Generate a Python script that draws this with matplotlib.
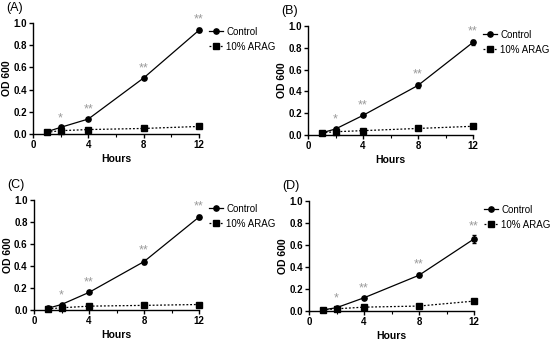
import matplotlib
matplotlib.use("Agg")
import matplotlib.pyplot as plt
from matplotlib.lines import Line2D
import numpy as np

hours = [1, 2, 4, 8, 12]
panel_labels = ["(A)", "(B)", "(C)", "(D)"]
series_names = ["Control", "10% ARAG"]

control_A = [0.02, 0.06, 0.135, 0.505, 0.935]
arag_A = [0.015, 0.03, 0.04, 0.05, 0.068]
control_B = [0.02, 0.055, 0.18, 0.455, 0.85]
arag_B = [0.02, 0.03, 0.04, 0.06, 0.08]
control_C = [0.015, 0.05, 0.16, 0.44, 0.845]
arag_C = [0.01, 0.02, 0.035, 0.042, 0.05]
control_D = [0.01, 0.03, 0.12, 0.325, 0.655]
arag_D = [0.01, 0.02, 0.035, 0.045, 0.09]

err_control_A = [0.003, 0.005, 0.008, 0.01, 0.02]
err_control_B = [0.003, 0.005, 0.008, 0.025, 0.02]
err_control_C = [0.003, 0.005, 0.008, 0.02, 0.02]
err_control_D = [0.003, 0.005, 0.008, 0.02, 0.035]

sig_marks = ["", "*", "**", "**", "**"]

xticks = [0, 4, 8, 12]
yticks = [0.0, 0.2, 0.4, 0.6, 0.8, 1.0]

panels = [
    (control_A, arag_A, err_control_A),
    (control_B, arag_B, err_control_B),
    (control_C, arag_C, err_control_C),
    (control_D, arag_D, err_control_D),
]

# axes positions in pixels (left, right, bottom_y, top_y)
W, H = 550, 344
pix = [
    (33, 199, 134, 23),
    (308, 473, 135, 26),
    (34, 199, 310, 200),
    (309, 474, 311, 201),
]

plt.rcParams['font.family'] = ['Liberation Sans', 'DejaVu Sans']
fig = plt.figure(figsize=(5.5, 3.44), dpi=100)

for i, ((ctrl, arag, err), (l, r, b, t)) in enumerate(zip(panels, pix)):
    ax = fig.add_axes([l / W, 1 - b / H, (r - l) / W, (b - t) / H])
    ax.errorbar(hours, ctrl, yerr=err, color='black', marker='o', markersize=3.8,
                linewidth=0.9, capsize=1.5, elinewidth=0.8, clip_on=False)
    ax.plot(hours, arag, color='black', marker='s', markersize=3.8,
            linewidth=0.9, linestyle=(0, (1.5, 1.5)), clip_on=False)
    for x, y, e, s in zip(hours, ctrl, err, sig_marks):
        if s:
            ax.text(x, y + e + 0.025, s, ha='center', va='bottom', fontsize=9,
                    color='#9a9a9a')
    ax.set_xlim(0, 12)
    ax.set_ylim(0, 1.0)
    ax.set_xticks(xticks)
    ax.set_xticks([2, 6, 10], minor=True)
    ax.set_yticks(yticks)
    ax.set_yticklabels([f"{v:.1f}" for v in yticks])
    ax.spines['top'].set_visible(False)
    ax.spines['right'].set_visible(False)
    for sp in ['left', 'bottom']:
        ax.spines[sp].set_linewidth(1.0)
    ax.tick_params(axis='both', which='major', length=3, width=1.0, labelsize=7, pad=1.5)
    ax.tick_params(axis='x', which='minor', length=2, width=0.8)
    for lab in ax.get_xticklabels() + ax.get_yticklabels():
        lab.set_fontweight('bold')
    ax.set_xlabel("Hours", fontsize=7.5, fontweight='bold', labelpad=3)
    ax.set_ylabel("OD 600", fontsize=7.5, fontweight='bold', labelpad=0.5)
    ax.text(-0.16, 1.135, panel_labels[i], transform=ax.transAxes, fontsize=9,
            ha='left', va='center')
    handles = [
        Line2D([], [], color='black', marker='o', markersize=3.8, linewidth=0.9),
        Line2D([], [], color='black', marker='s', markersize=3.8, linewidth=0.9,
               linestyle=(0, (1.5, 1.5))),
    ]
    ax.legend(handles, series_names, loc='upper left', bbox_to_anchor=(1.06, 0.965),
              frameon=False, fontsize=7, handlelength=1.4, handletextpad=0.4,
              labelspacing=0.5, borderaxespad=0, borderpad=0)

fig.savefig("out.png", dpi=100)
